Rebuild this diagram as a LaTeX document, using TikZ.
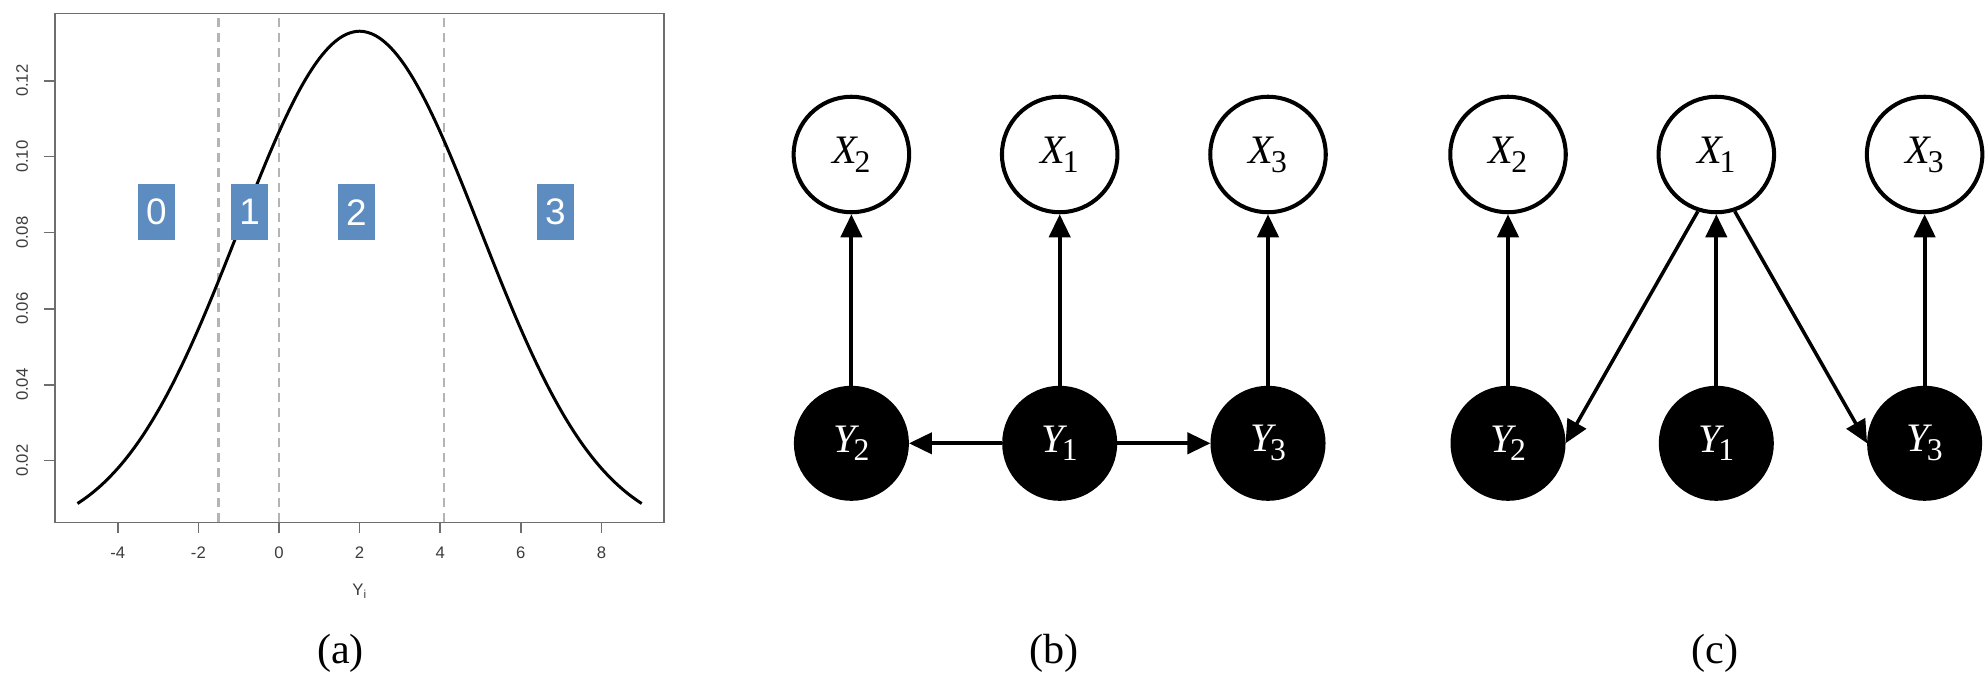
\documentclass[tikz,border=0pt]{standalone}
\usepackage{fontspec}
\setmainfont{Liberation Serif}
\newfontfamily\plotfont{Liberation Sans}
\usepackage{tikz}
\usetikzlibrary{arrows.meta,calc}
\definecolor{BinBlue}{RGB}{92,140,192}
\definecolor{FrameGray}{RGB}{110,110,110}
\definecolor{TickGray}{RGB}{60,60,60}
\definecolor{CutGray}{RGB}{180,180,180}
\tikzset{
    frame/.style={FrameGray,line width=0.9pt},
    cutline/.style={CutGray,line width=1.4pt,dash pattern=on 0.18cm off 0.12cm},
    density/.style={black,line width=1.7pt},
    ticklabel/.style={TickGray,font=\plotfont\fontsize{9.5pt}{9.5pt}\selectfont,inner sep=0pt},
    binbox/.style={fill=BinBlue,text=white,minimum width=0.74cm,minimum height=1.12cm,
        inner sep=0pt,font=\plotfont\fontsize{21pt}{21pt}\selectfont},
    xnode/.style={circle,draw,fill=white,line width=2.3pt,minimum size=2.31cm,inner sep=0pt,
        font=\fontsize{23pt}{23pt}\selectfont},
    ynode/.style={xnode,fill=black,text=white,minimum size=2.22cm},
    dagarrow/.style={-{Triangle[length=0.46cm,width=0.42cm]},line width=2.3pt},
    panel/.style={font=\fontsize{24pt}{24pt}\selectfont,inner sep=0pt}
}
\newcommand{\rv}[2]{{\itshape #1}\kern-0.06em\raisebox{-0.22em}{\fontsize{18pt}{18pt}\selectfont#2}}
% one row of observed X's above one row of hidden Y's, middle column at #2
\newcommand{\dagnodes}[2]{%
    \node[xnode] (#1X2) at ({#2-4.166},10.55) {\rv{X}{2}};
    \node[xnode] (#1X1) at (#2,10.55) {\rv{X}{1}};
    \node[xnode] (#1X3) at ({#2+4.166},10.55) {\rv{X}{3}};
    \node[ynode] (#1Y2) at ({#2-4.166},4.774) {\rv{Y}{2}};
    \node[ynode] (#1Y1) at (#2,4.774) {\rv{Y}{1}};
    \node[ynode] (#1Y3) at ({#2+4.166},4.774) {\rv{Y}{3}};
    \foreach \i in {1,2,3} \draw[dagarrow] (#1Y\i) -- (#1X\i);
}

\begin{document}
\begin{tikzpicture}
    \useasboundingbox (0,0) rectangle (39.76,13.64);
    % (a) density of Y_i with the cut points
    \begin{scope}[shift={(5.58,2.906)},x=0.806cm,y=76cm]
        \foreach \c in {-1.5,0,4.1}
            \draw[cutline] (\c,0.00379) -- (\c,0.1377);
        \draw[density] plot[domain=-5:9,samples=120,smooth]
            (\x,{exp(-(\x-2)^2/18)/(3*sqrt(2*pi))});
        \draw[frame] (-5.558,0.00379) rectangle (9.56,0.1377);
        \foreach \t [count=\k] in {-4,-2,0,2,4,6,8} {
            \draw[frame] (\t,0.00379) -- ++(0,-0.21cm);
            \node[ticklabel] (xtick\k) at ([yshift=-0.614cm]\t,0.00379) {\t};
        }
        \foreach \v [count=\k] in {0.02,0.04,0.06,0.08,0.10,0.12} {
            \draw[frame] (-5.558,\v) -- ++(-0.23cm,0);
            \node[ticklabel,rotate=90] (ytick\k) at ([xshift=-0.66cm]-5.558,\v) {\v};
        }
        \node[binbox] (bin0) at (-3.04,0.0854) {0};
        \node[binbox] (bin1) at (-0.73,0.0854) {1};
        \node[binbox] (bin2) at (1.92,0.0854) {2};
        \node[binbox] (bin3) at (6.86,0.0854) {3};
    \end{scope}
    \node[ticklabel] (ylab) at (7.194,1.806) {Y\textsubscript{i}};
    \node[panel] (capa) at (6.81,0.58) {(a)};
    % (b) chain through Y_1
    \dagnodes{b}{21.194}
    \draw[dagarrow] (bY1) -- (bY2);
    \draw[dagarrow] (bY1) -- (bY3);
    \node[panel] (capb) at (21.08,0.58) {(b)};
    % (c) X_1 points to Y_2 and Y_3
    \dagnodes{c}{34.326}
    \draw[dagarrow,line width=2pt] (cX1.252) -- (cY2.east);
    \draw[dagarrow,line width=2pt] (cX1.288) -- (cY3.west);
    \node[panel] (capc) at (34.3,0.58) {(c)};
\end{tikzpicture}
\end{document}
